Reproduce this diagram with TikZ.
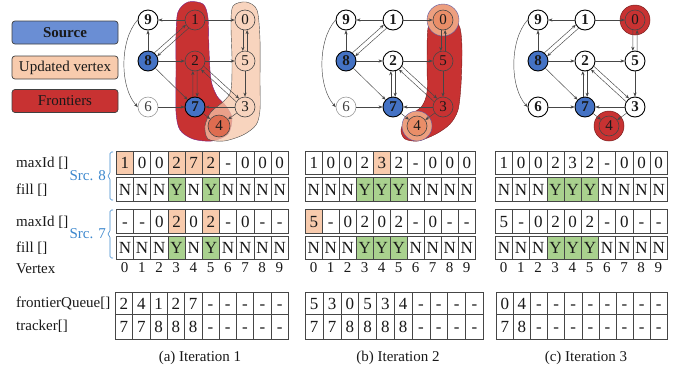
\documentclass[tikz,border=0pt]{standalone}
\usepackage{fontspec}
\setmainfont{Liberation Serif}
\usetikzlibrary{arrows.meta,calc}
\definecolor{srcblue}{RGB}{68,114,196}
\definecolor{legblue}{RGB}{106,142,212}
\definecolor{peach}{RGB}{246,198,168}
\definecolor{fred}{RGB}{200,50,50}
\definecolor{ygreen}{RGB}{169,209,142}
\definecolor{cellor}{RGB}{248,203,173}
\definecolor{hlor}{RGB}{234,142,104}
\definecolor{ovl}{RGB}{222,108,80}
\definecolor{linegray}{RGB}{70,70,70}
\definecolor{bracecol}{RGB}{60,135,205}
\newcommand\trow[6]{%
  \foreach \v/\f [count=\i from 0] in {#6} {
    \node[cell, c\f, minimum width=#4pt, minimum height=#5pt] (#1-\i) at ({#2+\i*#4}, #3) {\v};
  }}
\newcommand\vlab[3]{%
  \foreach \i in {0,...,9} {
    \node[lab] (#1-\i) at ({#2+(\i+0.5)*#3}, 268) {\i};
  }}
\newcommand\gedges[1]{%
  \draw[edge] (#1-1) -- (#1-9);
  \draw[edge] (#1-1) -- (#1-0);
  \draw[edge] (#1-8) -- (#1-9);
  \draw[edge] (#1-8.52) -- (#1-1.208);
  \draw[edge] (#1-1.232) -- (#1-8.28);
  \draw[edge] (#1-8) -- (#1-2);
  \draw[edge] (#1-8) -- (#1-7);
  \draw[edge] (#1-2) -- (#1-5);
  \draw[edge] (#1-7.102) -- (#1-2.258);
  \draw[edge] (#1-2.282) -- (#1-7.78);
  \draw[edge] (#1-2.-31) -- (#1-3.125);
  \draw[edge] (#1-3.149) -- (#1-2.-55);
  \draw[edge] (#1-0.258) -- (#1-5.102);
  \draw[edge] (#1-5.78) -- (#1-0.282);
  \draw[edge] (#1-5) -- (#1-3);
  \draw[edge] (#1-3) -- (#1-7);
  \draw[edge] (#1-6) -- (#1-7);
  \draw[edge] (#1-7) -- (#1-4);
  \draw[edge] (#1-3) -- (#1-4);
  \draw[edge] (#1-9.west) .. controls +(-18,20) and +(-18,-20) .. (#1-6.west);
}
\begin{document}
\begin{tikzpicture}[x=1pt,y=-1pt,
  every node/.style={text=black!90},
  gn/.style={circle, draw=linegray, line width=0.6pt, minimum size=20pt, inner sep=0pt,
    font=\fontsize{15}{15}\selectfont, fill=white},
  gb/.style={gn, draw=black, line width=0.9pt, font=\fontsize{15}{15}\selectfont\bfseries},
  gsrc/.style={gb, fill=srcblue},
  gfr/.style={gn, fill=fred},
  gup/.style={gn, fill=none},
  gor/.style={gn, fill=hlor},
  gpale/.style={gn, draw=gray!80, text=black!75},
  edge/.style={draw=linegray, line width=0.45pt, -{Stealth[length=4pt,width=3.2pt]}},
  cell/.style={draw=linegray, line width=0.6pt, inner sep=0pt, anchor=north west,
    text height=11.6pt, text depth=0pt, font=\fontsize{17}{17}\selectfont},
  co/.style={fill=cellor}, cw/.style={fill=white}, cg/.style={fill=ygreen},
  lab/.style={font=\fontsize{15}{15}\selectfont, inner sep=0pt},
  leftlab/.style={lab, anchor=west},
  legbox/.style={draw=black!75, line width=0.7pt, rounded corners=3pt, minimum width=106pt,
    minimum height=23pt, font=\fontsize{15}{15}\selectfont},
  blob/.style={line width=0.4pt},
  brc/.style={draw=bracecol, line width=0.6pt, rounded corners=1.5pt},
  srclab/.style={lab, text=bracecol, anchor=east}
]
\useasboundingbox (0,0) rectangle (678,368);
% legend
\node[legbox, fill=legblue, font=\fontsize{15}{15}\selectfont\bfseries] (lsrc) at (65,32.5) {Source};
\node[legbox, fill=cellor] (lupd) at (65,67.5) {Updated vertex};
\node[legbox, fill=fred] (lfr) at (65,101) {Frontiers};
% blobs graph 1
\draw[blob, fill=fred, draw=fred!60!blue] plot[smooth cycle] coordinates {(178,12) (188,2) (203,4) (208,18) (209,50) (211,80) (217,96) (226,106) (232,118) (228,134) (212,141) (193,139) (180,130) (176,112) (176,70) (176,35)};
\draw[blob, fill=peach, fill opacity=0.75, draw=black!70] plot[smooth cycle] coordinates {(233,6) (246,2) (257,10) (260,40) (260,80) (260,110) (256,125) (243,135) (224,141) (208,139) (205,126) (211,112) (224,101) (231,90) (232,60) (231,25)};
% blob graph 2
\draw[blob, fill=fred, draw=fred!60!black] plot[smooth cycle] coordinates {(428,28) (427,60) (427,92) (422,106) (412,114) (404,122) (401,131) (405,139) (418,141) (436,134) (450,124) (458,110) (461,85) (462,50) (460,28) (452,18) (435,18)};
\fill[hlor!85, draw=blue!30!gray, line width=0.4pt] (443,20) circle (16);
\fill[hlor!85, draw=blue!30!gray, line width=0.4pt] (417,126) circle (15);
% graph 3 highlights
\fill[fred, draw=fred!60!black, line width=0.5pt] (635,20) circle (15);
\fill[fred, draw=fred!60!black, line width=0.5pt] (609,126) circle (15);
% graph 1
\node[gb] (a-9) at (148,20) {9};
\node[gfr] (a-1) at (195,20) {1};
\node[gup] (a-0) at (245,20) {0};
\node[gsrc] (a-8) at (148,61) {8};
\node[gfr] (a-2) at (195,61) {2};
\node[gup] (a-5) at (245,61) {5};
\node[gpale] (a-6) at (148,107) {6};
\node[gsrc] (a-7) at (195,107) {7};
\node[gup] (a-3) at (245,107) {3};
\node[gn, fill=ovl, minimum size=22pt] (a-4) at (219,126) {4};
\gedges{a}
% graph 2
\node[gb] (b-9) at (346,20) {9};
\node[gb] (b-1) at (393,20) {1};
\node[gor] (b-0) at (443,20) {0};
\node[gsrc] (b-8) at (346,61) {8};
\node[gb] (b-2) at (393,61) {2};
\node[gfr] (b-5) at (443,61) {5};
\node[gpale] (b-6) at (346,107) {6};
\node[gsrc] (b-7) at (393,107) {7};
\node[gfr] (b-3) at (443,107) {3};
\node[gor] (b-4) at (417,126) {4};
\gedges{b}
% graph 3
\node[gb] (c-9) at (538,20) {9};
\node[gb] (c-1) at (585,20) {1};
\node[gfr] (c-0) at (635,20) {0};
\node[gsrc] (c-8) at (538,61) {8};
\node[gb] (c-2) at (585,61) {2};
\node[gb] (c-5) at (635,61) {5};
\node[gb] (c-6) at (538,107) {6};
\node[gsrc] (c-7) at (585,107) {7};
\node[gb] (c-3) at (635,107) {3};
\node[gfr] (c-4) at (609,126) {4};
\gedges{c}
% left labels
\node[leftlab] (l1) at (16,163) {maxId []};
\node[leftlab] (l2) at (16,190) {fill []};
\node[leftlab] (l3) at (16,222) {maxId []};
\node[leftlab] (l4) at (16,248) {fill []};
\node[leftlab] (l5) at (16,269) {Vertex};
\node[leftlab] (l6) at (16,303) {frontierQueue[]};
\node[leftlab] (l7) at (16,326) {tracker[]};
% braces
\draw[brc] (113,152) -- (110,152) -- (110,174) -- (107,176) -- (110,178) -- (110,200) -- (113,200);
\draw[brc] (113,210) -- (110,210) -- (110,232) -- (107,234) -- (110,236) -- (110,258) -- (113,258);
\node[srclab] (s8) at (106,176) {Src. 8};
\node[srclab] (s7) at (106,234) {Src. 7};
% iteration 1 tables
\trow{a-m8}{116}{151}{17.2}{23}{1/o,0/w,0/w,2/o,7/o,2/o,-/w,0/w,0/w,0/w}
\trow{a-f8}{116}{177}{17.2}{24}{N/w,N/w,N/w,Y/g,N/w,Y/g,N/w,N/w,N/w,N/w}
\trow{a-m7}{116}{209}{17.2}{24}{-/w,-/w,0/w,2/o,0/w,2/o,-/w,0/w,-/w,-/w}
\trow{a-f7}{116}{236}{17.2}{23}{N/w,N/w,N/w,Y/g,N/w,Y/g,N/w,N/w,N/w,N/w}
\vlab{a-v}{116}{17.2}
\trow{a-q}{115}{292}{17.3}{22}{2/w,4/w,1/w,2/w,7/w,-/w,-/w,-/w,-/w,-/w}
\trow{a-t}{115}{314}{17.3}{25}{7/w,7/w,8/w,8/w,8/w,-/w,-/w,-/w,-/w,-/w}
% iteration 2 tables
\trow{b-m8}{305}{151}{17.0}{23}{1/w,0/w,0/w,2/w,3/o,2/w,-/w,0/w,0/w,0/w}
\trow{b-f8}{305}{177}{17.0}{24}{N/w,N/w,N/w,Y/g,Y/g,Y/g,N/w,N/w,N/w,N/w}
\trow{b-m7}{305}{209}{17.0}{24}{5/o,-/w,0/w,2/w,0/w,2/w,-/w,0/w,-/w,-/w}
\trow{b-f7}{305}{236}{17.0}{23}{N/w,N/w,N/w,Y/g,Y/g,Y/g,N/w,N/w,N/w,N/w}
\vlab{b-v}{305}{17.0}
\trow{b-q}{305}{292}{17.8}{22}{5/w,3/w,0/w,5/w,3/w,4/w,-/w,-/w,-/w,-/w}
\trow{b-t}{305}{314}{17.8}{25}{7/w,7/w,8/w,8/w,8/w,8/w,-/w,-/w,-/w,-/w}
% iteration 3 tables
\trow{c-m8}{495}{151}{17.2}{23}{1/w,0/w,0/w,2/w,3/w,2/w,-/w,0/w,0/w,0/w}
\trow{c-f8}{495}{177}{17.2}{24}{N/w,N/w,N/w,Y/g,Y/g,Y/g,N/w,N/w,N/w,N/w}
\trow{c-m7}{495}{209}{17.2}{24}{5/w,-/w,0/w,2/w,0/w,2/w,-/w,0/w,-/w,-/w}
\trow{c-f7}{495}{236}{17.2}{23}{N/w,N/w,N/w,Y/g,Y/g,Y/g,N/w,N/w,N/w,N/w}
\vlab{c-v}{495}{17.2}
\trow{c-q}{496}{292}{17.1}{22}{0/w,4/w,-/w,-/w,-/w,-/w,-/w,-/w,-/w,-/w}
\trow{c-t}{496}{314}{17.1}{25}{7/w,8/w,-/w,-/w,-/w,-/w,-/w,-/w,-/w,-/w}
% captions
\node[lab] (capa) at (200,358) {(a) Iteration 1};
\node[lab] (capb) at (398,358) {(b) Iteration 2};
\node[lab] (capc) at (586,358) {(c) Iteration 3};
\end{tikzpicture}
\end{document}
